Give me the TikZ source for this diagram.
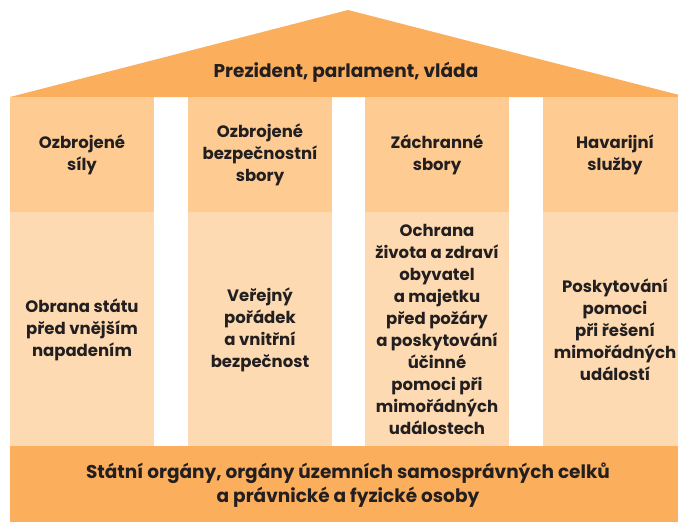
\documentclass[tikz,border=0pt]{standalone}
\usepackage{fontspec}
\setmainfont{Poppins}
\usetikzlibrary{positioning}

\definecolor{roofc}{HTML}{FBAF5D}
\definecolor{headc}{HTML}{FECC93}
\definecolor{bodyc}{HTML}{FDDAB1}
\definecolor{inkc}{HTML}{231F20}

\tikzset{
  lbl/.style={font=\bfseries\fontsize{16.5}{22}\selectfont, text=inkc, align=center},
  biglbl/.style={lbl, font=\bfseries\fontsize{18.5}{24}\selectfont},
  headbox/.style={lbl, fill=headc, minimum width=144pt, minimum height=115pt, inner sep=0pt},
  bodybox/.style={lbl, fill=bodyc, minimum width=144pt, minimum height=234pt, inner sep=0pt},
}

\begin{document}
\begin{tikzpicture}[x=1pt, y=-1pt]
        \useasboundingbox (0,0) rectangle (678,522);

        % roof
        \fill[roofc] (10,97) -- (348,10) -- (687,97) -- cycle;
        \node[biglbl] (gov) at (346,72) {Prezident, parlament, vláda};

        % pillar heads
        \node[headbox] (h1) at (82,154.5) {Ozbrojené\\síly};
        \node[headbox] (h2) at (260,154.5) {Ozbrojené\\bezpečnostní\\sbory};
        \node[headbox] (h3) at (437,154.5) {Záchranné\\sbory};
        \node[headbox] (h4) at (615,154.5) {Havarijní\\služby};

        % pillar bodies
        \node[bodybox, below=0pt of h1] (b1) {Obrana státu\\před vnějším\\napadením};
        \node[bodybox, below=0pt of h2] (b2) {Veřejný\\pořádek\\a vnitřní\\bezpečnost};
        \node[bodybox, below=0pt of h3] (b3) {Ochrana\\života a zdraví\\obyvatel\\a majetku\\před požáry\\a poskytování\\účinné\\pomoci při\\mimořádných\\událostech};
        \node[bodybox, below=0pt of h4] (b4) {Poskytování\\pomoci\\při řešení\\mimořádných\\událostí};

        % foundation
        \fill[roofc] (10,446) rectangle (687,522);
        \node[biglbl] (base) at (348,485) {Státní orgány, orgány územních samosprávných celků\\a právnické a fyzické osoby};

\end{tikzpicture}
\end{document}
